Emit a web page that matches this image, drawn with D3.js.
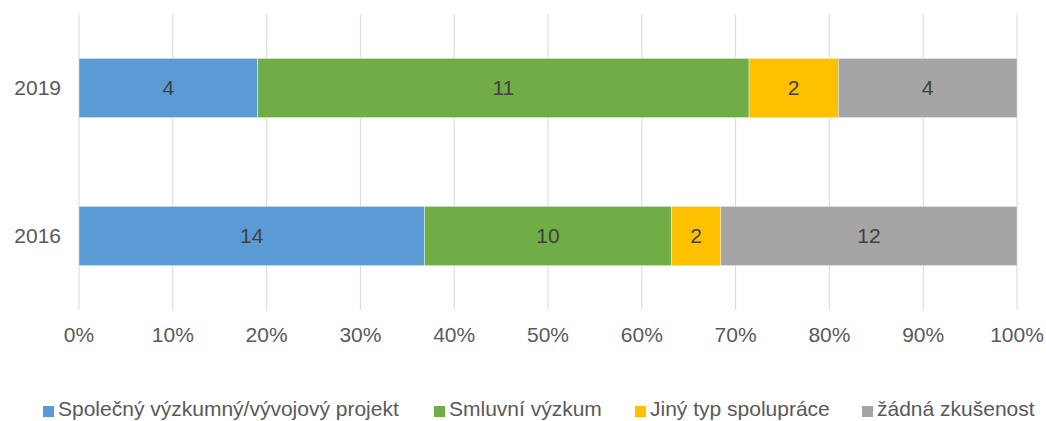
<!DOCTYPE html>
<html>
<head>
<meta charset="utf-8">
<script src="https://cdn.jsdelivr.net/npm/d3@7"></script>
<style>
  body { margin: 0; background: #fff; }
  svg { display: block; }
</style>
</head>
<body>
<div id="chart"></div>
<script>
// 100% stacked bar: type of cooperation by year

const years = ["2019", "2016"];
const seriesNames = ["Společný výzkumný/vývojový projekt", "Smluvní výzkum", "Jiný typ spolupráce", "žádná zkušenost"];
const seriesColors = ["#5B9BD5", "#70AD47", "#FFC000", "#A5A5A5"];
const values2019 = [4, 11, 2, 4];
const values2016 = [14, 10, 2, 12];
const tickValues = [0, 0.1, 0.2, 0.3, 0.4, 0.5, 0.6, 0.7, 0.8, 0.9, 1];

const width = 1046;
const height = 421;
const font = "Liberation Sans, Arial, sans-serif";
const fontSize = "21px";

const svg = d3.select("#chart").append("svg")
    .attr("width", width)
    .attr("height", height);

const x = d3.scaleLinear().domain([0, 1]).range([79, 1017]);
const y = d3.scaleBand().domain(years).range([14, 310])
    .paddingInner(0.6).paddingOuter(0.3);

// gridlines
svg.append("g")
    .selectAll("line")
    .data(tickValues)
    .join("line")
    .attr("x1", d => x(d))
    .attr("x2", d => x(d))
    .attr("y1", 14)
    .attr("y2", 310)
    .attr("stroke", "#d9d9d9")
    .attr("stroke-width", 1);

// build rows
const rows = years.map((yr, i) => {
    const vals = i === 0 ? values2019 : values2016;
    const total = d3.sum(vals);
    let acc = 0;
    return vals.map((v, j) => {
        const seg = { year: yr, value: v, k: j, x0: acc / total, x1: (acc + v) / total };
        acc += v;
        return seg;
    });
}).flat();

const seg = svg.append("g")
    .selectAll("g")
    .data(rows)
    .join("g");

seg.append("rect")
    .attr("x", d => x(d.x0))
    .attr("y", d => y(d.year))
    .attr("width", d => x(d.x1) - x(d.x0))
    .attr("height", y.bandwidth())
    .attr("fill", d => seriesColors[d.k])
    .attr("stroke", "#fff")
    .attr("stroke-opacity", 0.5)
    .attr("stroke-width", 0.75);

seg.append("text")
    .attr("x", d => (x(d.x0) + x(d.x1)) / 2)
    .attr("y", d => y(d.year) + y.bandwidth() / 2)
    .attr("dy", "0.34em")
    .attr("text-anchor", "middle")
    .attr("font-family", font)
    .attr("font-size", fontSize)
    .attr("fill", "#404040")
    .text(d => d.value);

// x axis labels
svg.append("g")
    .selectAll("text")
    .data(tickValues)
    .join("text")
    .attr("x", d => x(d))
    .attr("y", 342)
    .attr("text-anchor", "middle")
    .attr("font-family", font)
    .attr("font-size", fontSize)
    .attr("fill", "#595959")
    .text(d => d3.format(".0%")(d));

// y axis labels
svg.append("g")
    .selectAll("text")
    .data(years)
    .join("text")
    .attr("x", 61)
    .attr("y", d => y(d) + y.bandwidth() / 2)
    .attr("dy", "0.34em")
    .attr("text-anchor", "end")
    .attr("font-family", font)
    .attr("font-size", fontSize)
    .attr("fill", "#595959")
    .text(d => d);

// legend
const legendX = [43, 434, 635, 862];
const legend = svg.append("g")
    .selectAll("g")
    .data(seriesNames)
    .join("g")
    .attr("transform", (d, i) => `translate(${legendX[i]}, 0)`);

legend.append("rect")
    .attr("x", 0)
    .attr("y", 406)
    .attr("width", 11)
    .attr("height", 11)
    .attr("fill", (d, i) => seriesColors[i]);

legend.append("text")
    .attr("x", 15)
    .attr("y", 416)
    .attr("font-family", font)
    .attr("font-size", fontSize)
    .attr("fill", "#595959")
    .text(d => d);
</script>
</body>
</html>
